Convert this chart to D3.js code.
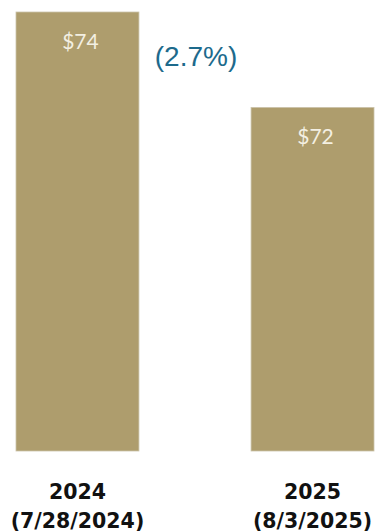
<!DOCTYPE html>
<html>
<head>
<meta charset="utf-8">
<script src="https://cdn.jsdelivr.net/npm/d3@7"></script>
<style>
  body { margin: 0; background: #fff; }
  svg { display: block; }
</style>
</head>
<body>
<svg id="chart"></svg>
<script>
// data
const years = ["2024", "2025"];
const dates = ["(7/28/2024)", "(8/3/2025)"];
const values = [74, 72];
const valueLabels = ["$74", "$72"];
const changeLabel = "(2.7%)";

const width = 375;
const height = 532;

const svg = d3.select("#chart")
    .attr("width", width)
    .attr("height", height);

const x = d3.scaleBand()
    .domain(years)
    .range([16, 374])
    .paddingInner(0.477)
    .paddingOuter(0);

// axis is truncated in the original
const y = d3.scaleLinear()
    .domain([64.8, 74])
    .range([451, 12]);

const bars = years.map((d, i) => ({ year: d, date: dates[i], value: values[i], label: valueLabels[i] }));

svg.append("g")
    .selectAll("rect")
    .data(bars)
    .join("rect")
    .attr("x", d => x(d.year))
    .attr("y", d => y(d.value))
    .attr("width", x.bandwidth())
    .attr("height", d => y.range()[0] - y(d.value))
    .attr("fill", "#ae9d6d")
    .attr("stroke", "#cbc3aa")
    .attr("stroke-width", 0.8);

// value labels inside bars
svg.append("g")
    .selectAll("text")
    .data(bars)
    .join("text")
    .attr("x", d => x(d.year) + x.bandwidth() / 2 + 3)
    .attr("y", d => y(d.value) + 37)
    .attr("text-anchor", "middle")
    .attr("font-family", "Lato, sans-serif")
    .attr("font-size", 21)
    .attr("fill", "#f3efe2")
    .text(d => d.label);

// change label between bars
svg.append("text")
    .attr("x", (x(years[0]) + x.bandwidth() + x(years[1])) / 2 + 1)
    .attr("y", 66)
    .attr("text-anchor", "middle")
    .attr("font-family", "'Liberation Sans', Arial, sans-serif")
    .attr("font-size", 28)
    .attr("fill", "#1d6a8c")
    .text(changeLabel);

// category labels
const cats = svg.append("g")
    .selectAll("text")
    .data(bars)
    .join("text")
    .attr("x", d => x(d.year) + x.bandwidth() / 2)
    .attr("text-anchor", "middle")
    .attr("font-family", "'DejaVu Sans', sans-serif")
    .attr("font-weight", "bold")
    .attr("font-size", 20.5)
    .attr("fill", "#111");

cats.append("tspan")
    .attr("x", d => x(d.year) + x.bandwidth() / 2)
    .attr("y", 499)
    .text(d => d.year);

cats.append("tspan")
    .attr("x", d => x(d.year) + x.bandwidth() / 2)
    .attr("y", 528)
    .text(d => d.date);
</script>
</body>
</html>
